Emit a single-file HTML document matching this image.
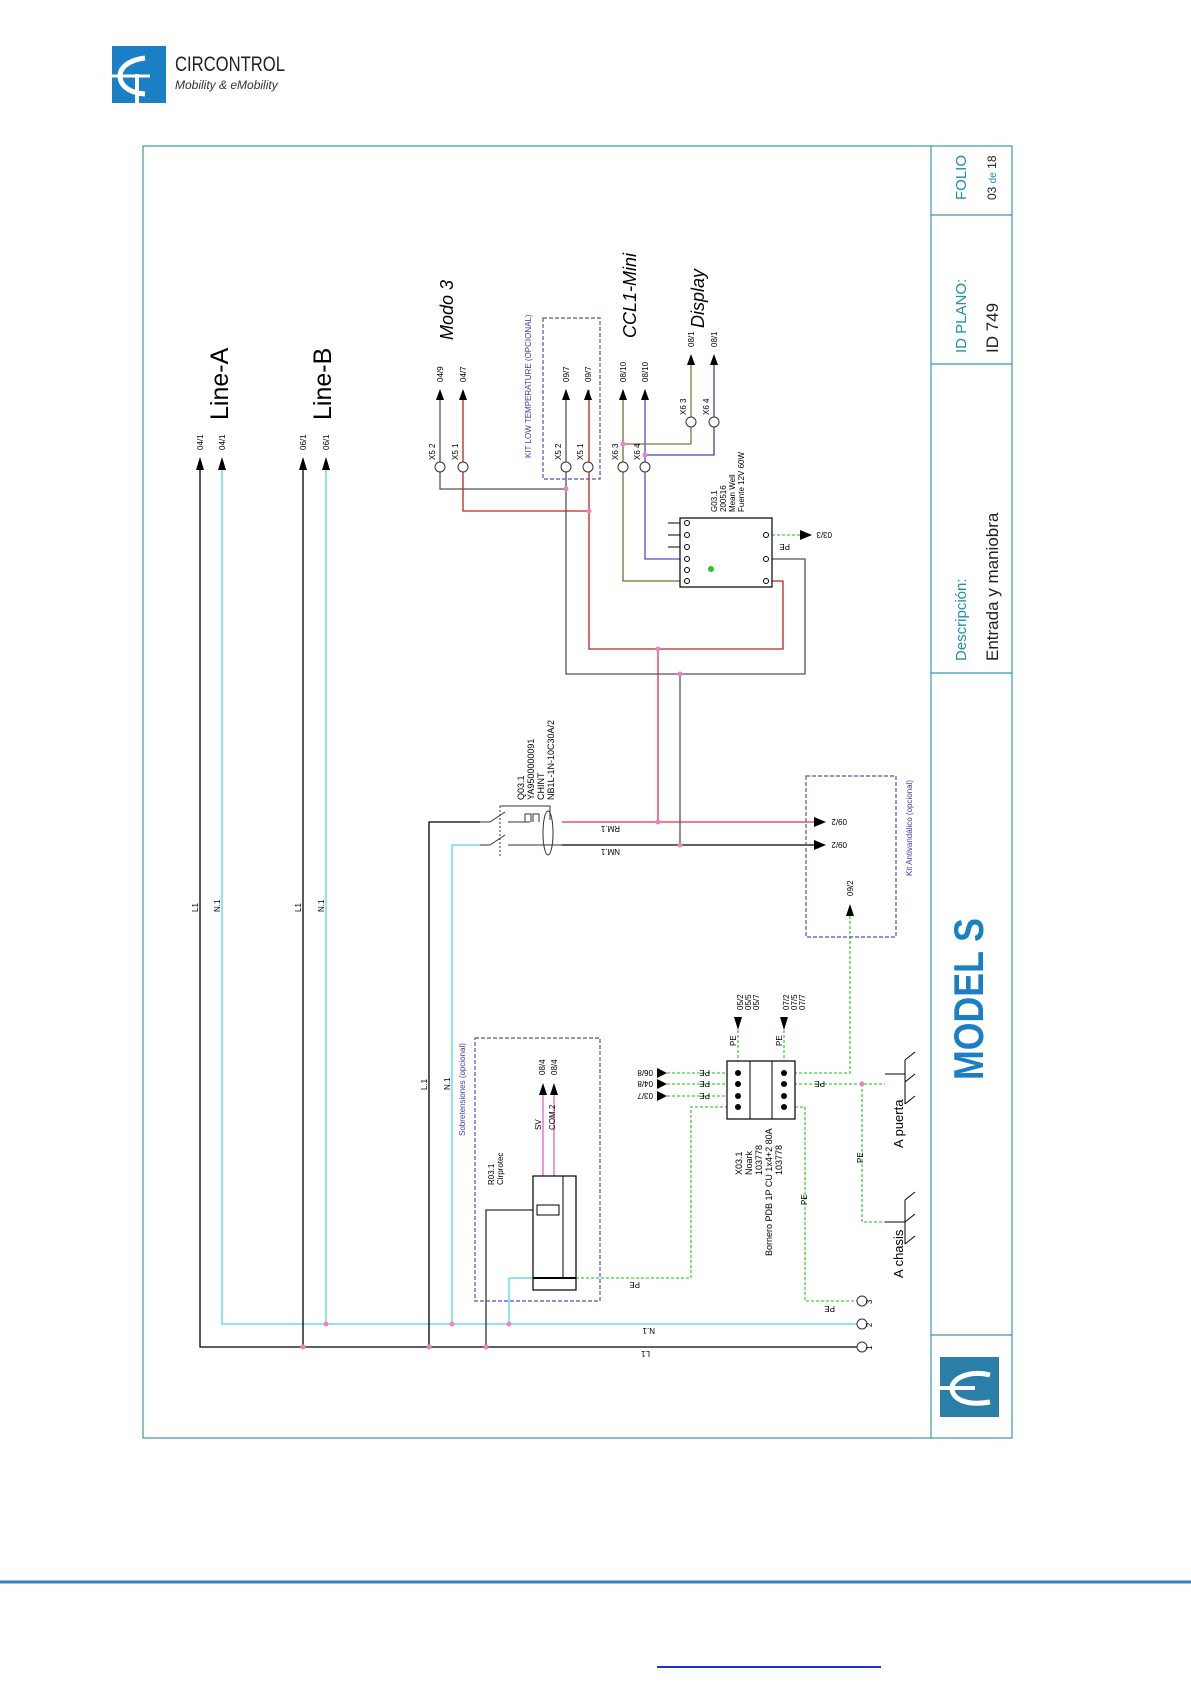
<!DOCTYPE html>
<html><head><meta charset="utf-8"><style>
html,body{margin:0;padding:0;background:#fff;}
svg{display:block;font-family:"Liberation Sans",sans-serif;}
</style></head><body>
<svg width="1191" height="1684" viewBox="0 0 1191 1684" xmlns="http://www.w3.org/2000/svg">
<rect x="112" y="46" width="54" height="57" fill="#1a7fc4"/>
<path d="M145 58 C128 60 120 68 120 76 C120 86 130 93 145 94" fill="none" stroke="#fff" stroke-width="5"/>
<line x1="137" y1="74" x2="137" y2="103" stroke="#fff" stroke-width="4"/>
<line x1="112" y1="76" x2="150" y2="76" stroke="#fff" stroke-width="3"/>
<text x="175" y="71" font-size="21" fill="#222" textLength="110" lengthAdjust="spacingAndGlyphs">CIRCONTROL</text>
<text x="175" y="89" font-size="12" font-style="italic" fill="#333">Mobility &amp; eMobility</text>

<rect x="143" y="146" width="869" height="1292" fill="none" stroke="#3a9aa8" stroke-width="1.2"/>
<line x1="931" y1="146" x2="931" y2="1438" stroke="#3a9aa8" stroke-width="1.2"/>
<g stroke="#3a9aa8" stroke-width="1.2">
<line x1="931" y1="215" x2="1012" y2="215"/><line x1="931" y1="364" x2="1012" y2="364"/>
<line x1="931" y1="673" x2="1012" y2="673"/><line x1="931" y1="1335" x2="1012" y2="1335"/>
</g>
<g fill="#1f8fb0" font-size="15">
<text transform="translate(966,200) rotate(-90)">FOLIO</text>
<text transform="translate(966,353) rotate(-90)">ID PLANO:</text>
<text transform="translate(966,661) rotate(-90)">Descripción:</text>
</g>
<g fill="#222" font-size="17">
<text transform="translate(996,200) rotate(-90)" font-size="12">03 <tspan fill="#1f8fb0" font-size="10">de</tspan> 18</text>
<text transform="translate(998,353) rotate(-90)">ID 749</text>
<text transform="translate(998,661) rotate(-90)">Entrada y maniobra</text>
</g>
<text transform="translate(983,1080) rotate(-90)" font-size="42" font-weight="bold" fill="#1a7fc4" textLength="162" lengthAdjust="spacingAndGlyphs">MODEL S</text>
<rect x="940" y="1357" width="59" height="60" fill="#2a7fa8"/>
<path d="M990 1375 C970 1370 952 1378 952 1388 C952 1400 968 1406 990 1402" fill="none" stroke="#fff" stroke-width="5"/>
<line x1="940" y1="1388" x2="975" y2="1388" stroke="#fff" stroke-width="4"/>

<line x1="0" y1="1582" x2="1191" y2="1582" stroke="#2f7fbf" stroke-width="3"/>
<line x1="657" y1="1667" x2="881" y2="1667" stroke="#1f2fd0" stroke-width="2"/>

<g fill="none" stroke-width="1.3">
<polyline points="200,462 200,1347 862,1347" stroke="#000"/>
<polyline points="222,462 222,1324 862,1324" stroke="#4fd8e0"/>
<line x1="303" y1="462" x2="303" y2="1347" stroke="#000"/>
<line x1="326" y1="462" x2="326" y2="1324" stroke="#4fd8e0"/>
<polyline points="429,1347 429,822 480,822" stroke="#000"/>
<polyline points="452,1324 452,845 480,845" stroke="#4fd8e0"/>
<line x1="562" y1="822" x2="818" y2="822" stroke="#e03050"/>
<line x1="562" y1="845" x2="818" y2="845" stroke="#000"/>
<line x1="658" y1="822" x2="658" y2="649" stroke="#e03050"/>
<line x1="680" y1="845" x2="680" y2="674" stroke="#555"/>
<polyline points="589,390 589,649 783,649 783,581 772,581" stroke="#c02020"/>
<polyline points="463,398 463,511 589,511" stroke="#c02020"/>
<polyline points="566,390 566,674 805,674 805,559 772,559" stroke="#555"/>
<polyline points="440,398 440,489 566,489" stroke="#555"/>
<polyline points="623,390 623,581 680,581" stroke="#7a6a30"/>
<polyline points="645,390 645,559 680,559" stroke="#5050c0"/>
<polyline points="691,356 691,444 623,444" stroke="#8a7040"/>
<polyline points="714,356 714,455 645,455" stroke="#4040b0"/>
<polyline points="486,1347 486,1210 533,1210" stroke="#333"/>
<polyline points="509,1324 509,1278 533,1278" stroke="#4fd8e0"/>
<line x1="543" y1="1085" x2="543" y2="1176" stroke="#e060d0"/>
<line x1="554" y1="1085" x2="554" y2="1176" stroke="#e060d0"/>
</g>
<g fill="none" stroke="#40d040" stroke-width="1.3" stroke-dasharray="3,2">
<polyline points="576,1278 691,1278 691,1107 738,1107"/>
<line x1="667" y1="1073" x2="738" y2="1073"/>
<line x1="667" y1="1084" x2="738" y2="1084"/>
<line x1="667" y1="1096" x2="738" y2="1096"/>
<line x1="738" y1="1030" x2="738" y2="1061"/>
<line x1="784" y1="1030" x2="784" y2="1061"/>
<polyline points="784,1073 850,1073 850,910"/>
<line x1="784" y1="1084" x2="885" y2="1084"/>
<polyline points="862,1084 862,1222 885,1222"/>
<polyline points="795,1107 805,1107 805,1301 857,1301"/>
<line x1="772" y1="535" x2="800" y2="535"/>
</g>
<g fill="#000">
<path d="M196,470 L200,457 L204,470Z"/><path d="M218,470 L222,457 L226,470Z"/>
<path d="M299,470 L303,457 L307,470Z"/><path d="M322,470 L326,457 L330,470Z"/>
<path d="M436,400 L440,389 L444,400Z"/><path d="M459,400 L463,389 L467,400Z"/>
<path d="M562,400 L566,389 L570,400Z"/><path d="M584,400 L588,389 L592,400Z"/>
<path d="M619,400 L623,389 L627,400Z"/><path d="M641,400 L645,389 L649,400Z"/>
<path d="M687,365 L691,354 L695,365Z"/><path d="M710,365 L714,354 L718,365Z"/>
<path d="M814,817 L826,822 L814,827Z"/><path d="M814,840 L826,845 L814,850Z"/>
<path d="M846,916 L850,904 L854,916Z"/>
<path d="M800,530 L812,535 L800,540Z"/>
<path d="M657,1068 L667,1073 L657,1078Z"/><path d="M657,1079 L667,1084 L657,1089Z"/><path d="M657,1091 L667,1096 L657,1101Z"/>
<path d="M734,1017 L738,1030 L742,1017Z"/><path d="M780,1017 L784,1030 L788,1017Z"/>
<path d="M539,1095 L543,1083 L547,1095Z"/><path d="M550,1095 L554,1083 L558,1095Z"/>
</g>
<g fill="#fff" stroke="#333" stroke-width="1">
<circle cx="440" cy="467" r="5"/><circle cx="463" cy="467" r="5"/>
<circle cx="566" cy="467" r="5"/><circle cx="588" cy="467" r="5"/>
<circle cx="623" cy="467" r="5"/><circle cx="645" cy="467" r="5"/>
<circle cx="691" cy="422" r="5"/><circle cx="714" cy="422" r="5"/>
<circle cx="862" cy="1301" r="5"/><circle cx="862" cy="1324" r="5"/><circle cx="862" cy="1347" r="5"/>
</g>
<g fill="#f080c0">
<circle cx="303" cy="1347" r="2.5"/><circle cx="429" cy="1347" r="2.5"/><circle cx="486" cy="1347" r="2.5"/>
<circle cx="326" cy="1324" r="2.5"/><circle cx="452" cy="1324" r="2.5"/><circle cx="509" cy="1324" r="2.5"/>
<circle cx="658" cy="822" r="2.5"/><circle cx="680" cy="845" r="2.5"/><circle cx="658" cy="649" r="2.5"/><circle cx="680" cy="674" r="2.5"/>
<circle cx="566" cy="489" r="2.5"/><circle cx="589" cy="511" r="2.5"/><circle cx="623" cy="444" r="2.5"/><circle cx="645" cy="455" r="2.5"/>
<circle cx="862" cy="1084" r="2.5"/>
</g>
<g fill="none" stroke="#333" stroke-width="1">
<polyline points="500,806 550,806 550,820"/>
<line x1="480" y1="822" x2="490" y2="822"/><line x1="490" y1="822" x2="505" y2="812"/><line x1="508" y1="822" x2="530" y2="822"/>
<line x1="480" y1="845" x2="490" y2="845"/><line x1="490" y1="845" x2="505" y2="835"/><line x1="508" y1="845" x2="562" y2="845"/>
<path d="M525,822 l0,-8 l6,0 l0,8 M533,822 l0,-8 l6,0 l0,8"/>
<ellipse cx="548" cy="833" rx="5" ry="22"/>
<line x1="500" y1="806" x2="500" y2="856" stroke-dasharray="2,2"/>
</g>
<rect x="680" y="518" width="92" height="69" fill="#fff" stroke="#000" stroke-width="1.2"/>
<g fill="none" stroke="#000" stroke-width="1"><circle cx="687" cy="523" r="2.5"/><circle cx="687" cy="535" r="2.5"/><circle cx="687" cy="547" r="2.5"/><circle cx="687" cy="559" r="2.5"/><circle cx="687" cy="570" r="2.5"/><circle cx="687" cy="581" r="2.5"/><circle cx="766" cy="535" r="2.5"/><circle cx="766" cy="559" r="2.5"/><circle cx="766" cy="581" r="2.5"/>
<line x1="668" y1="523" x2="680" y2="523"/><line x1="668" y1="535" x2="680" y2="535"/><line x1="668" y1="547" x2="680" y2="547"/></g>
<circle cx="711" cy="569" r="3" fill="#30c030"/>
<g fill="none" stroke="#5050c0" stroke-width="1.2" stroke-dasharray="4,2">
<rect x="543" y="318" width="57" height="161"/>
<rect x="806" y="776" width="90" height="161"/>
<rect x="475" y="1038" width="125" height="263"/>
</g>
<rect x="533" y="1176" width="43" height="114" fill="none" stroke="#000" stroke-width="1.2"/>
<line x1="533" y1="1278" x2="576" y2="1278" stroke="#000" stroke-width="2"/>
<rect x="537" y="1205" width="22" height="10" fill="none" stroke="#000"/>
<line x1="563" y1="1176" x2="563" y2="1278" stroke="#000"/>
<rect x="727" y="1061" width="68" height="58" fill="#fff" stroke="#000" stroke-width="1.2"/>
<line x1="750" y1="1061" x2="750" y2="1119" stroke="#000"/><line x1="772" y1="1061" x2="772" y2="1119" stroke="#000"/>
<g fill="#000"><circle cx="738" cy="1073" r="3"/><circle cx="738" cy="1084" r="3"/><circle cx="738" cy="1096" r="3"/><circle cx="738" cy="1107" r="3"/><circle cx="784" cy="1073" r="3"/><circle cx="784" cy="1084" r="3"/><circle cx="784" cy="1096" r="3"/><circle cx="784" cy="1107" r="3"/></g>
<g stroke="#000" stroke-width="1" fill="none">
<line x1="885" y1="1074" x2="905" y2="1074"/><line x1="905" y1="1060" x2="905" y2="1104"/><line x1="905" y1="1060" x2="915" y2="1052"/><line x1="905" y1="1082" x2="915" y2="1074"/><line x1="905" y1="1104" x2="915" y2="1096"/>
<line x1="885" y1="1222" x2="905" y2="1222"/><line x1="905" y1="1200" x2="905" y2="1244"/><line x1="905" y1="1200" x2="915" y2="1192"/><line x1="905" y1="1222" x2="915" y2="1214"/><line x1="905" y1="1244" x2="915" y2="1236"/>
</g>
<g fill="#000">
<text transform="translate(228,420) rotate(-90)" font-size="25">Line-A</text>
<text transform="translate(331,420) rotate(-90)" font-size="25">Line-B</text>
<text transform="translate(453,340) rotate(-90)" font-size="18" font-style="italic">Modo 3</text>
<text transform="translate(636,338) rotate(-90)" font-size="18" font-style="italic">CCL1-Mini</text>
<text transform="translate(704,328) rotate(-90)" font-size="18" font-style="italic">Display</text>
<g font-size="8">
<text transform="translate(203,450) rotate(-90)">04/1</text><text transform="translate(225,450) rotate(-90)">04/1</text>
<text transform="translate(306,450) rotate(-90)">06/1</text><text transform="translate(329,450) rotate(-90)">06/1</text>
<text transform="translate(443,382) rotate(-90)">04/9</text><text transform="translate(466,382) rotate(-90)">04/7</text>
<text transform="translate(569,382) rotate(-90)">09/7</text><text transform="translate(591,382) rotate(-90)">09/7</text>
<text transform="translate(626,382) rotate(-90)">08/10</text><text transform="translate(648,382) rotate(-90)">08/10</text>
<text transform="translate(694,347) rotate(-90)">08/1</text><text transform="translate(717,347) rotate(-90)">08/1</text>
<text transform="translate(435,460) rotate(-90)">X5 2</text><text transform="translate(458,460) rotate(-90)">X5 1</text>
<text transform="translate(561,460) rotate(-90)">X5 2</text><text transform="translate(583,460) rotate(-90)">X5 1</text>
<text transform="translate(618,460) rotate(-90)">X6 3</text><text transform="translate(640,460) rotate(-90)">X6 4</text>
<text transform="translate(686,415) rotate(-90)">X6 3</text><text transform="translate(709,415) rotate(-90)">X6 4</text>
<text transform="translate(198,912) rotate(-90)">L1</text><text transform="translate(220,912) rotate(-90)">N.1</text>
<text transform="translate(301,912) rotate(-90)">L1</text><text transform="translate(324,912) rotate(-90)">N.1</text>
<text transform="translate(427,1090) rotate(-90)">L.1</text><text transform="translate(450,1090) rotate(-90)">N.1</text>
<text transform="translate(847,819) rotate(180)">09/2</text><text transform="translate(847,842) rotate(180)">09/2</text>
<text transform="translate(853,896) rotate(-90)">09/2</text>
<text transform="translate(832,532) rotate(180)">03/3</text>
<text transform="translate(790,544) rotate(180)">PE</text>
<text transform="translate(620,826) rotate(180)">RM.1</text><text transform="translate(620,849) rotate(180)">NM.1</text>
<text transform="translate(524,800) rotate(-90)" font-size="9">Q03.1</text>
<text transform="translate(534,800) rotate(-90)" font-size="9">YA9500000091</text>
<text transform="translate(544,800) rotate(-90)" font-size="9">CHINT</text>
<text transform="translate(554,800) rotate(-90)" font-size="9">NB1L-1N-10C30A/2</text>
<text transform="translate(717,512) rotate(-90)">G03.1</text>
<text transform="translate(726,512) rotate(-90)">200516</text>
<text transform="translate(735,512) rotate(-90)">Mean Well</text>
<text transform="translate(744,512) rotate(-90)">Fuente 12V 60W</text>
<text transform="translate(653,1070) rotate(180)">06/8</text><text transform="translate(653,1081) rotate(180)">04/8</text><text transform="translate(653,1093) rotate(180)">03/7</text>
<text transform="translate(710,1070) rotate(180)">PE</text><text transform="translate(710,1081) rotate(180)">PE</text><text transform="translate(710,1093) rotate(180)">PE</text>
<text transform="translate(825,1081) rotate(180)">PE</text>
<text transform="translate(743,1010) rotate(-90)">05/2</text><text transform="translate(751,1010) rotate(-90)">05/5</text><text transform="translate(759,1010) rotate(-90)">05/7</text>
<text transform="translate(789,1010) rotate(-90)">07/2</text><text transform="translate(797,1010) rotate(-90)">07/5</text><text transform="translate(805,1010) rotate(-90)">07/7</text>
<text transform="translate(736,1046) rotate(-90)">PE</text><text transform="translate(782,1046) rotate(-90)">PE</text>
<text transform="translate(545,1075) rotate(-90)">08/4</text><text transform="translate(557,1075) rotate(-90)">08/4</text>
<text transform="translate(541,1130) rotate(-90)">SV</text><text transform="translate(555,1130) rotate(-90)">COM.2</text>
<text transform="translate(494,1185) rotate(-90)">R03.1</text><text transform="translate(503,1185) rotate(-90)">Cirprotec</text>
<text transform="translate(742,1175) rotate(-90)" font-size="9">X03.1</text>
<text transform="translate(752,1175) rotate(-90)" font-size="9">Noark</text>
<text transform="translate(762,1175) rotate(-90)" font-size="9">103778</text>
<text transform="translate(772,1256) rotate(-90)" font-size="9">Bornero PDB 1P CU 1x4+2 80A</text>
<text transform="translate(782,1175) rotate(-90)" font-size="9">103778</text>
<text transform="translate(807,1205) rotate(-90)">PE</text><text transform="translate(863,1163) rotate(-90)">PE</text>
<text transform="translate(640,1282) rotate(180)">PE</text><text transform="translate(835,1306) rotate(180)">PE</text>
<text transform="translate(655,1328) rotate(180)">N.1</text><text transform="translate(650,1351) rotate(180)">L1</text>
<text transform="translate(872,1350) rotate(-90)">1</text><text transform="translate(872,1327) rotate(-90)">2</text><text transform="translate(872,1304) rotate(-90)">3</text>
</g>
<text transform="translate(903,1148) rotate(-90)" font-size="13">A puerta</text>
<text transform="translate(903,1278) rotate(-90)" font-size="13">A chasis</text>
</g>
<g fill="#4040b0" font-size="8">
<text transform="translate(531,458) rotate(-90)">KIT LOW TEMPERATURE (OPCIONAL)</text>
<text transform="translate(912,876) rotate(-90)">Kit Antivandálico (opcional)</text>
<text transform="translate(465,1136) rotate(-90)">Sobretensiones (opcional)</text>
</g>
</svg>
</body></html>
